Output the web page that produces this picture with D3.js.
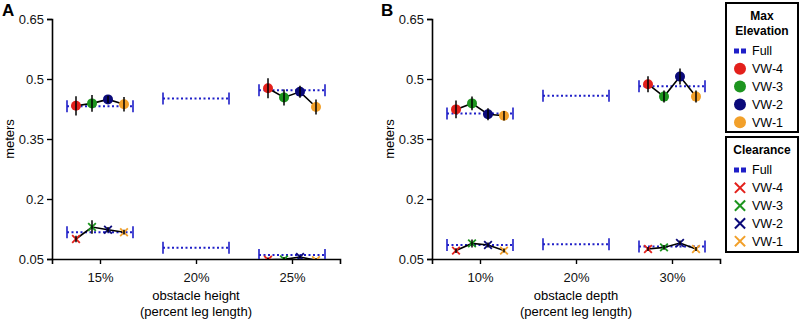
<!DOCTYPE html>
<html>
<head>
<meta charset="utf-8">
<script src="https://cdn.jsdelivr.net/npm/d3@7"></script>
<style>
  body { margin: 0; background: #fff; }
  text { font-family: "Liberation Sans", Arial, sans-serif; }
</style>
</head>
<body>
<svg width="800" height="320"></svg>
<script>
// categories
var vwNames = ["VW-4", "VW-3", "VW-2", "VW-1"];
var vwColors = ["#e3201b", "#1d951f", "#0b0a7a", "#f2a02a"];
var fullColor = "#1f1fc8";
var xLabelsA = ["15%", "20%", "25%"];
var xLabelsB = ["10%", "20%", "30%"];
var yTicks = [0.05, 0.2, 0.35, 0.5, 0.65];

// panel A - max elevation (one array per VW, null = no data)
var elevFullA = [0.432, 0.451, 0.472];
var elevA_vw4 = [0.433, null, 0.477];
var elevA_vw3 = [0.439, null, 0.454];
var elevA_vw2 = [0.449, null, 0.468];
var elevA_vw1 = [0.437, null, 0.430];
var elevErrA_vw4 = [0.024, null, 0.025];
var elevErrA_vw3 = [0.021, null, 0.020];
var elevErrA_vw2 = [0.009, null, 0.015];
var elevErrA_vw1 = [0.018, null, 0.019];

// panel A - clearance
var clearFullA = [0.117, 0.078, 0.060];
var clearA_vw4 = [0.100, null, 0.048];
var clearA_vw3 = [0.130, null, 0.049];
var clearA_vw2 = [0.123, null, 0.055];
var clearA_vw1 = [0.117, null, 0.047];
var clearErrA_vw4 = [0.008, null, 0.006];
var clearErrA_vw3 = [0.017, null, 0.006];
var clearErrA_vw2 = [0.007, null, 0.004];
var clearErrA_vw1 = [0.006, null, 0.005];

// panel B - max elevation
var elevFullB = [0.414, 0.458, 0.482];
var elevB_vw4 = [0.424, null, 0.487];
var elevB_vw3 = [0.439, null, 0.456];
var elevB_vw2 = [0.412, null, 0.506];
var elevB_vw1 = [0.408, null, 0.456];
var elevErrB_vw4 = [0.022, null, 0.020];
var elevErrB_vw3 = [0.017, null, 0.015];
var elevErrB_vw2 = [0.015, null, 0.020];
var elevErrB_vw1 = [0.012, null, 0.015];

// panel B - clearance
var clearFullB = [0.085, 0.087, 0.081];
var clearB_vw4 = [0.071, null, 0.075];
var clearB_vw3 = [0.089, null, 0.079];
var clearB_vw2 = [0.085, null, 0.090];
var clearB_vw1 = [0.071, null, 0.075];
var clearErrB_vw4 = [0.006, null, 0.005];
var clearErrB_vw3 = [0.010, null, 0.006];
var clearErrB_vw2 = [0.006, null, 0.006];
var clearErrB_vw1 = [0.005, null, 0.005];

var svg = d3.select("svg");

// shared y scale
var y = d3.scaleLinear().domain([0.05, 0.65]).range([259, 19]);

var vwOffset = [-24, -8, 8, 24];   // pixel offset of each VW around its tick
var fullHalf = 33;                // half width of the "Full" dotted bar

svg.append("defs").append("clipPath").attr("id", "clip")
  .append("rect").attr("x", 0).attr("y", 0).attr("width", 800).attr("height", 259);

function drawPanel(opt) {
  var x = d3.scalePoint().domain(opt.labels).range(opt.range).padding(0.5);
  var g = svg.append("g");

  // axes
  g.append("g")
    .attr("transform", "translate(" + opt.range[0] + ",0)")
    .call(d3.axisLeft(y).tickValues(yTicks).tickSizeOuter(0).tickSize(5).tickFormat(function(d) { return String(d); }))
    .call(styleAxis);
  g.append("g")
    .attr("transform", "translate(0," + y(0.05) + ")")
    .call(d3.axisBottom(x).tickSizeOuter(0).tickSize(5))
    .call(styleAxis)
    .selectAll("text").attr("dy", "1.15em");

  // panel letter + axis titles
  g.append("text").attr("x", opt.letterX).attr("y", 16)
    .attr("font-size", 17).attr("font-weight", "bold").text(opt.letter);
  g.append("text")
    .attr("transform", "translate(" + (opt.range[0] - 38) + "," + y(0.35) + ") rotate(-90)")
    .attr("text-anchor", "middle").attr("font-size", 13).text("meters");
  var cx = (opt.range[0] + opt.range[1]) / 2;
  g.append("text").attr("x", cx).attr("y", 300).attr("text-anchor", "middle")
    .attr("font-size", 13).text(opt.xTitle);
  g.append("text").attr("x", cx).attr("y", 316).attr("text-anchor", "middle")
    .attr("font-size", 13).text("(percent leg length)");

  var plot = g.append("g").attr("clip-path", "url(#clip)");
  drawMeasure(plot, x, opt.labels, opt.elevFull, opt.elev, opt.elevErr, "circle");
  drawMeasure(plot, x, opt.labels, opt.clearFull, opt.clear, opt.clearErr, "times");
}

function styleAxis(sel) {
  sel.select(".domain").attr("stroke", "#000").attr("stroke-width", 1.6);
  sel.selectAll(".tick line").attr("stroke", "#000").attr("stroke-width", 1.4);
  sel.selectAll(".tick text").attr("font-size", 13).attr("fill", "#111")
    .attr("font-family", "'Liberation Sans', Arial, sans-serif");
}

function drawMeasure(plot, x, labels, full, series, errs, shape) {
  // "Full" dotted bars with end caps
  labels.forEach(function(lab, i) {
    var cx = x(lab), cy = y(full[i]);
    plot.append("line")
      .attr("x1", cx - fullHalf).attr("x2", cx + fullHalf)
      .attr("y1", cy).attr("y2", cy)
      .attr("stroke", fullColor).attr("stroke-width", 2).attr("stroke-dasharray", "2,2.5");
    [-1, 1].forEach(function(s) {
      plot.append("line")
        .attr("x1", cx + s * fullHalf).attr("x2", cx + s * fullHalf)
        .attr("y1", cy - 6).attr("y2", cy + 6)
        .attr("stroke", fullColor).attr("stroke-width", 1.6);
    });
  });

  // connecting black lines through the VW points at each level
  labels.forEach(function(lab, i) {
    var pts = [];
    series.forEach(function(s, k) {
      if (s[i] != null) pts.push([x(lab) + vwOffset[k], y(s[i])]);
    });
    if (pts.length > 1) {
      plot.append("path").attr("d", d3.line()(pts))
        .attr("fill", "none").attr("stroke", "#000").attr("stroke-width", 1.6);
    }
  });

  // markers then error bars
  series.forEach(function(s, k) {
    labels.forEach(function(lab, i) {
      if (s[i] == null) return;
      var px = x(lab) + vwOffset[k], py = y(s[i]);
      if (shape === "circle") {
        plot.append("circle").attr("cx", px).attr("cy", py).attr("r", 5)
          .attr("fill", vwColors[k]);
      } else {
        plot.append("path")
          .attr("d", d3.symbol().type(d3.symbolTimes).size(40)())
          .attr("transform", "translate(" + px + "," + py + ")")
          .attr("fill", "none").attr("stroke", vwColors[k]).attr("stroke-width", 1.8);
      }
      var e = errs[k][i];
      plot.append("line")
        .attr("x1", px).attr("x2", px)
        .attr("y1", y(s[i] + e)).attr("y2", y(s[i] - e))
        .attr("stroke", "#000").attr("stroke-width", 1.5);
    });
  });
}

drawPanel({
  letter: "A", letterX: 2, labels: xLabelsA, range: [52, 340],
  xTitle: "obstacle height",
  elevFull: elevFullA, elev: [elevA_vw4, elevA_vw3, elevA_vw2, elevA_vw1],
  elevErr: [elevErrA_vw4, elevErrA_vw3, elevErrA_vw2, elevErrA_vw1],
  clearFull: clearFullA, clear: [clearA_vw4, clearA_vw3, clearA_vw2, clearA_vw1],
  clearErr: [clearErrA_vw4, clearErrA_vw3, clearErrA_vw2, clearErrA_vw1]
});
drawPanel({
  letter: "B", letterX: 381, labels: xLabelsB, range: [432, 720],
  xTitle: "obstacle depth",
  elevFull: elevFullB, elev: [elevB_vw4, elevB_vw3, elevB_vw2, elevB_vw1],
  elevErr: [elevErrB_vw4, elevErrB_vw3, elevErrB_vw2, elevErrB_vw1],
  clearFull: clearFullB, clear: [clearB_vw4, clearB_vw3, clearB_vw2, clearB_vw1],
  clearErr: [clearErrB_vw4, clearErrB_vw3, clearErrB_vw2, clearErrB_vw1]
});

// legends
function drawLegend(top, height, titles, shape) {
  var lg = svg.append("g").attr("transform", "translate(726," + top + ")");
  lg.append("rect").attr("x", 0).attr("y", 0).attr("width", 72).attr("height", height)
    .attr("fill", "#fff").attr("stroke", "#000").attr("stroke-width", 2);
  titles.forEach(function(t, i) {
    lg.append("text").attr("x", 36).attr("y", 17 + i * 15).attr("text-anchor", "middle")
      .attr("font-size", 12).attr("font-weight", "bold").text(t);
  });
  var y0 = 13 + titles.length * 15 + 5;
  var rows = ["Full"].concat(vwNames);
  rows.forEach(function(name, i) {
    var ry = y0 + i * 17.8;
    if (i === 0) {
      lg.append("line").attr("x1", 8).attr("x2", 20).attr("y1", ry).attr("y2", ry)
        .attr("stroke", fullColor).attr("stroke-width", 5).attr("stroke-dasharray", "5,2");
    } else if (shape === "circle") {
      lg.append("circle").attr("cx", 14).attr("cy", ry).attr("r", 6).attr("fill", vwColors[i - 1]);
    } else {
      lg.append("path").attr("d", d3.symbol().type(d3.symbolTimes).size(70)())
        .attr("transform", "translate(14," + ry + ")")
        .attr("fill", "none").attr("stroke", vwColors[i - 1]).attr("stroke-width", 2);
    }
    lg.append("text").attr("x", 26).attr("y", ry).attr("dy", "0.35em")
      .attr("font-size", 12.5).text(name);
  });
}
drawLegend(3, 129, ["Max", "Elevation"], "circle");
drawLegend(137, 115, ["Clearance"], "times");
</script>
</body>
</html>
